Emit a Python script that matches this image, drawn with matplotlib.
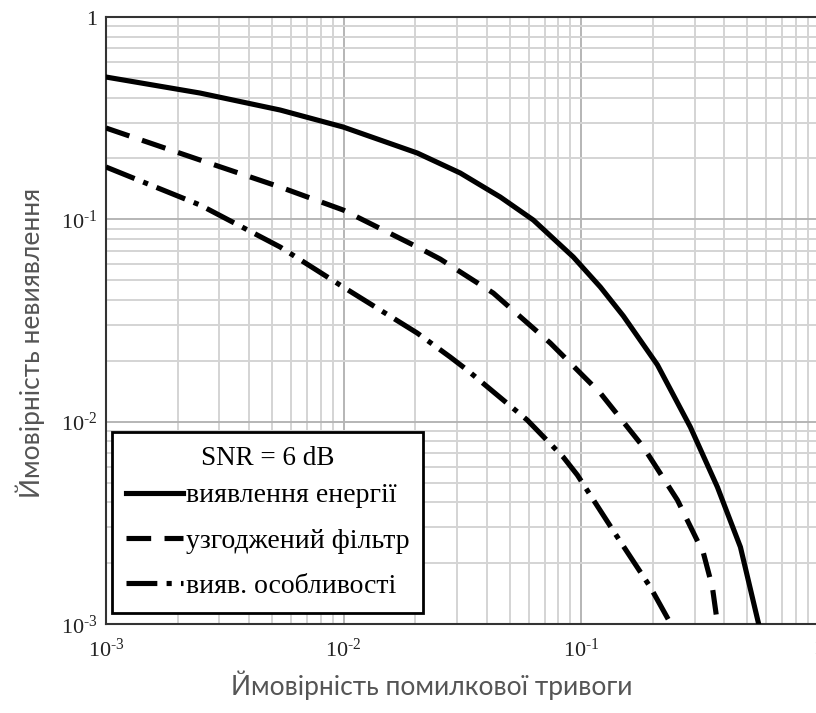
import matplotlib
matplotlib.use("Agg")
import matplotlib.pyplot as plt
from matplotlib.ticker import LogLocator, FixedLocator, FixedFormatter, NullFormatter

plt.rcParams['mathtext.fontset'] = 'custom'
plt.rcParams['mathtext.rm'] = 'Liberation Serif'
plt.rcParams['mathtext.it'] = 'Liberation Serif:italic'
plt.rcParams['mathtext.bf'] = 'Liberation Serif:bold'

# Data
energy_pfa = [0.001, 0.002487, 0.005402, 0.009952, 0.02040, 0.03094, 0.04560, 0.06281,
              0.09254, 0.1202, 0.1502, 0.2089, 0.2876, 0.3737, 0.4671, 0.5562]
energy_pmd = [0.505, 0.4209, 0.3470, 0.2859, 0.2127, 0.1694, 0.1289, 0.0992,
              0.0651, 0.0463, 0.0333, 0.0191, 0.00940, 0.00475, 0.00240, 0.00101]

matched_pfa = [0.001, 0.002487, 0.005402, 0.009952, 0.02040, 0.02549, 0.04261, 0.07405,
               0.1202, 0.1824, 0.2536, 0.3264, 0.3560, 0.3737]
matched_pmd = [0.2827, 0.1964, 0.1444, 0.1112, 0.0730, 0.0636, 0.04322, 0.02446,
               0.01385, 0.00749, 0.00410, 0.00224, 0.00152, 0.00101]

feature_pfa = [0.001, 0.002487, 0.005402, 0.009952, 0.02040, 0.02808, 0.03311, 0.05924,
               0.08396, 0.09620, 0.1418, 0.1952, 0.2369]
feature_pmd = [0.1814, 0.1177, 0.0730, 0.0463, 0.02741, 0.02086, 0.01799, 0.01018,
               0.00668, 0.00545, 0.00269, 0.00152, 0.00101]

series_labels = ["виявлення енергії", "узгоджений фільтр", "вияв. особливості"]
legend_title = "SNR = 6 dB"
tick_values = [1e-3, 1e-2, 1e-1, 1]
tick_labels = [r"$10^{\text{-}3}$", r"$10^{\text{-}2}$", r"$10^{\text{-}1}$", r"$1$"]
xlabel = "Ймовірність помилкової тривоги"
ylabel = "Ймовірність невиявлення"

W, H = 816, 713
fig = plt.figure(figsize=(W / 100, H / 100), dpi=100)
L, R, T, B = 106, 819, 17, 624
ax = fig.add_axes([L / W, 1 - B / H, (R - L) / W, (B - T) / H])
ax.set_xscale('log')
ax.set_yscale('log')
ax.set_xlim(1e-3, 1)
ax.set_ylim(1e-3, 1)

lw = 3.7
kw = dict(color='black', lw=lw, zorder=3, solid_joinstyle='round')
ax.plot(energy_pfa, energy_pmd, ls='-', label=series_labels[0], **kw)
ax.plot(matched_pfa, matched_pmd, ls=(0, (4.8, 2.6)), label=series_labels[1], **kw)
ax.plot(feature_pfa, feature_pmd, ls=(0, (6, 1.8, 1, 1.8)), label=series_labels[2], **kw)

for axis in (ax.xaxis, ax.yaxis):
    axis.set_major_locator(FixedLocator(tick_values))
    axis.set_major_formatter(FixedFormatter(tick_labels))
    axis.set_minor_locator(LogLocator(base=10, subs=range(2, 10), numticks=20))
    axis.set_minor_formatter(NullFormatter())

ax.grid(which='major', color='#b5b5b5', lw=1.4, zorder=0)
ax.grid(which='minor', color='#d4d4d4', lw=1.4, zorder=0)
ax.set_axisbelow(True)
ax.tick_params(which='both', length=0)
ax.tick_params(axis='x', pad=10, labelsize=16, labelcolor='#222222')
ax.tick_params(axis='y', pad=6, labelsize=16, labelcolor='#222222')
for sp in ax.spines.values():
    sp.set_color('#333333')
    sp.set_linewidth(1.5)

leg = ax.legend(title=legend_title, loc='lower left',
                bbox_to_anchor=(112 / W, 1 - 613 / H), bbox_transform=fig.transFigure,
                prop={'family': 'Liberation Serif', 'size': 20},
                title_fontproperties={'family': 'Liberation Serif', 'size': 19.5},
                frameon=True, fancybox=False, framealpha=1, edgecolor='black',
                handlelength=2.05, handletextpad=0.1, labelspacing=0.72,
                borderpad=0.5, borderaxespad=0)
leg.get_frame().set_linewidth(2)
leg._legend_box.sep = 8.6

fig.text(432 / W, 1 - 685 / H, xlabel, ha='center', va='center',
         family='Lato', fontsize=19, color='#555555')
fig.text(30 / W, 1 - 343 / H, ylabel, ha='center', va='center', rotation=90,
         family='Lato', fontsize=19, color='#555555')

fig.savefig('out.png', dpi=100)
